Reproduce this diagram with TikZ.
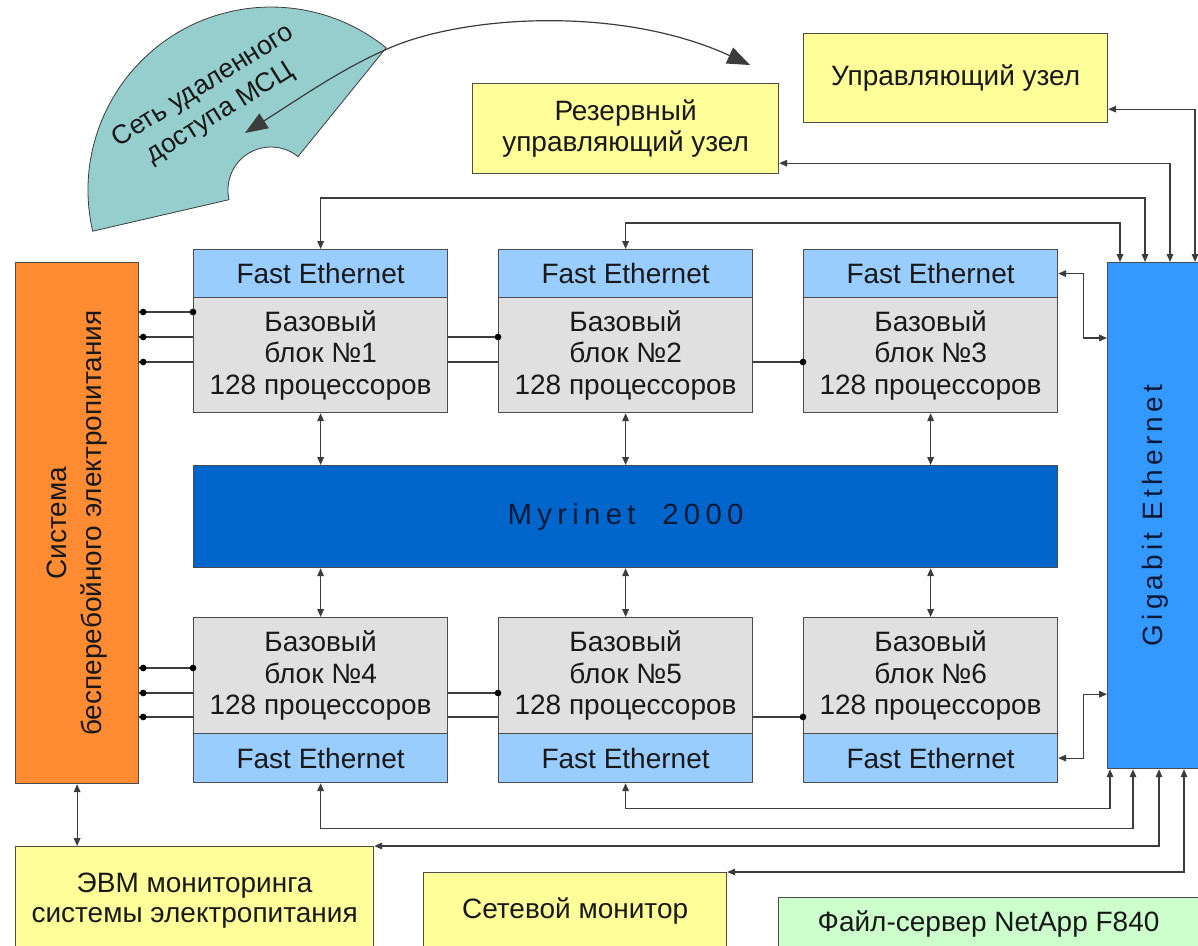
\documentclass[tikz,border=0pt]{standalone}
\usepackage{fontspec}
\setmainfont{Liberation Sans}
\usetikzlibrary{arrows.meta,calc,backgrounds}

\definecolor{boxyellow}{RGB}{255,255,153}
\definecolor{feblue}{RGB}{153,204,255}
\definecolor{blockgray}{RGB}{224,224,224}
\definecolor{myriblue}{RGB}{0,102,204}
\definecolor{gigblue}{RGB}{51,153,255}
\definecolor{upsorange}{RGB}{255,140,51}
\definecolor{fanteal}{RGB}{150,205,205}
\definecolor{srvgreen}{RGB}{204,255,204}
\definecolor{linegray}{RGB}{60,60,60}
\definecolor{textnavy}{RGB}{10,25,55}

\begin{document}
\begin{tikzpicture}[x=0.75pt,y=0.75pt,yscale=-1,xscale=1,
  every node/.style={font=\fontsize{21}{23.6}\selectfont,text=black!90,inner sep=0pt,align=center},
  sized/.style 2 args={minimum width=#1*0.75pt,minimum height=#2*0.75pt},
  unit/.style={draw=black!70,line width=0.9pt,anchor=north west},
  dlink/.style={draw=linegray,line width=0.9pt,>={Triangle[length=6pt,width=5pt]},<->},
  bus/.style={draw=linegray,line width=0.9pt},
  tap/.style={circle,fill=black,minimum size=5pt}]
\useasboundingbox (0,0) rectangle (1198,945);

%Shape: Arc
\draw [draw=linegray,fill=fanteal,line width=0.6pt] (92.7,231.2) arc[start angle=-193,end angle=-51,radius=183] -- (298,156.6) arc[start angle=-51,end angle=-193,radius=43] -- cycle;
% Text Node
\node [rotate=32,font=\fontsize{20}{24}\selectfont] (fantext) at (212,100) {Сеть удаленного\\доступа МСЦ};
%Curve Lines
\draw [draw=linegray,line width=0.9pt,{Triangle[length=17pt,width=13pt]}-{Triangle[length=17pt,width=13pt]}] (245,133) .. controls (300,98) and (340,70) .. (385,50) .. controls (460,15) and (620,5) .. (750,65);

%Shape: Rectangle
\node [unit,fill=boxyellow,sized={306}{90}] (rezerv) at (472,83) {Резервный\\управляющий узел};
\node [unit,fill=boxyellow,sized={304}{89}] (upr) at (803,33) {Управляющий узел};
\node [unit,fill=upsorange,sized={123}{521}] (ups) at (15,262) {};
\node [rotate=90,font=\fontsize{21}{26}\selectfont] (upstext) at (ups.center) {Система\\бесперебойного электропитания};
\node [unit,fill=gigblue,sized={95}{506}] (gig) at (1107,262) {};
\node [rotate=90,text=textnavy,font=\fontsize{21}{24}\selectfont\addfontfeature{LetterSpace=15}] (gigtext) at (gig.center) {Gigabit Ethernet};

% base blocks
\foreach \i/\x in {1/193,2/498,3/803}{
  \node [unit,fill=feblue,sized={254}{48}] (fe\i) at (\x,249) {Fast Ethernet};
  \node [unit,fill=blockgray,sized={254}{115}] (body\i) at (\x,297) {Базовый\\блок №\i\\128 процессоров};
}
\foreach \i/\x in {4/193,5/498,6/803}{
  \node [unit,fill=blockgray,sized={254}{116}] (body\i) at (\x,617) {Базовый\\блок №\i\\128 процессоров};
  \node [unit,fill=feblue,sized={254}{49}] (fe\i) at (\x,733) {Fast Ethernet};
}
\node [unit,fill=myriblue,sized={864}{102},text=textnavy,font=\fontsize{22}{24}\selectfont\addfontfeature{LetterSpace=18}] (myri) at (193,465) {Myrinet \ 2000};

\node [unit,fill=boxyellow,sized={358}{108},font=\fontsize{21}{22.5}\selectfont] (evm) at (15,846) {ЭВМ мониторинга\\системы электропитания};
\node [unit,fill=boxyellow,sized={303}{76}] (mon) at (423,872) {Сетевой монитор};
\node [unit,fill=srvgreen,sized={420}{52}] (srv) at (778,897) {Файл-сервер NetApp F840};

% ports of Gigabit Ethernet
\coordinate (gt1) at ($(gig.north west)+(13,0)$);
\coordinate (gt2) at ($(gig.north west)+(38,0)$);
\coordinate (gt3) at ($(gig.north west)+(63,0)$);
\coordinate (gt4) at ($(gig.north west)+(88,0)$);
\coordinate (gb1) at ($(gig.south west)+(3,0)$);
\coordinate (gb2) at ($(gig.south west)+(26,0)$);
\coordinate (gb3) at ($(gig.south west)+(52,0)$);
\coordinate (gb4) at ($(gig.south west)+(77,0)$);
\coordinate (gl1) at ($(gig.north west)+(0,76)$);
\coordinate (gl2) at ($(gig.south west)+(0,-75)$);

%Straight Lines
\draw [dlink] (fe1.north) -- ++(0,-51) -| (gt2);
\draw [dlink] (fe2.north) -- ++(0,-26) -| (gt1);
\draw [dlink] ($(rezerv.south east)+(0,-11)$) -| (gt3);
\draw [dlink] ($(upr.south east)+(0,-14)$) -| (gt4);
\draw [dlink] (fe3.east) -- ++(25,0) |- (gl1);
\draw [dlink] (fe6.east) -- ++(25,0) |- (gl2);
\draw [dlink] (fe5.south) -- ++(0,25) -| (gb1);
\draw [dlink] (fe4.south) -- ++(0,45) -| (gb2);
\draw [dlink] (evm.north east) -| (gb3);
\draw [dlink] (mon.north east) -| (gb4);
\draw [dlink] (ups.south) -- (ups.south |- evm.north);
\foreach \i in {1,2,3}
  \draw [dlink] (body\i.south) -- (body\i.south |- myri.north);
\foreach \i in {4,5,6}
  \draw [dlink] (myri.south -| body\i.north) -- (body\i.north);

% power lines
\coordinate (tap1) at ($(body1.north west)+(0,15)$);
\coordinate (tap2) at ($(body2.north west)+(0,40)$);
\coordinate (tap3) at ($(body3.north west)+(0,65)$);
\coordinate (tap4) at ($(body4.north west)+(0,51)$);
\coordinate (tap5) at ($(body5.north west)+(0,76)$);
\coordinate (tap6) at ($(body6.north west)+(0,100)$);
\begin{scope}[on background layer]
\foreach \i in {1,...,6}
  \draw [bus] (ups.east |- tap\i) -- (tap\i);
\end{scope}
\foreach \i in {1,...,6}{
  \node [tap] (dotb\i) at (tap\i) {};
  \node [tap] (dotu\i) at ($(ups.east |- tap\i)+(4,0)$) {};
}

\end{tikzpicture}
\end{document}
